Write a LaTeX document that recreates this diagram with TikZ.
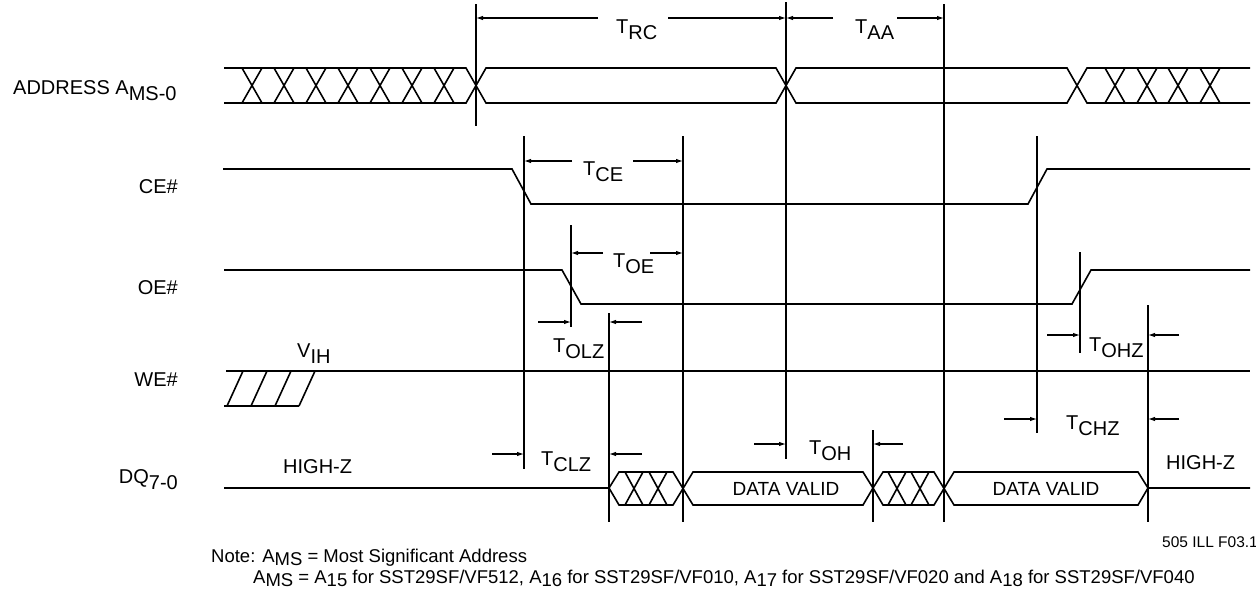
\documentclass[tikz,border=0pt]{standalone}
\usepackage{fontspec}
\setmainfont{Liberation Sans}
\usepackage{tikz}
\usetikzlibrary{arrows.meta}
\newcommand{\dn}[1]{\raisebox{-0.3em}{#1}}
\newcommand{\ndn}[1]{\raisebox{-0.2em}{#1}}

\begin{document}
\begin{tikzpicture}[x=1pt,y=-1pt,
    sig/.style={line width=1.6pt},
    tline/.style={line width=1.1pt},
    dim/.style={line width=1.1pt,-{Latex[length=7pt,width=4.5pt]}},
    lbl/.style={font=\fontsize{20}{22}\selectfont,inner sep=0pt}]

    \useasboundingbox (0,0) rectangle (1256,590);

    % signal names
    \begin{scope}[every node/.style={lbl}]
        \node[anchor=base west] (addr) at (13,94) {ADDRESS A\dn{MS-0}};
        \node[anchor=base east] (ce) at (178,193) {CE\#};
        \node[anchor=base east] (oe) at (178,294) {OE\#};
        \node[anchor=base east] (we) at (178,386) {WE\#};
        \node[anchor=base east] (dq) at (178,483) {DQ\dn{7-0}};
    \end{scope}

    % address bus
    \begin{scope}[every path/.style={sig}]
        \draw (224,68) -- (466,68) -- (486,103) -- (776,103) -- (796,68) -- (1067,68) -- (1087,103) -- (1250,103);
        \draw (224,103) -- (466,103) -- (486,68) -- (776,68) -- (796,103) -- (1067,103) -- (1087,68) -- (1250,68);
        \foreach \c in {252,284,316,348,380,412,444,1115,1147,1178,1210}
            \draw (\c-10,68) -- (\c+10,103) (\c-10,103) -- (\c+10,68);

        % CE#, OE#
        \draw (223,169) -- (512,169) -- (531,204) -- (1028,204) -- (1047,169) -- (1250,169);
        \draw (224,270) -- (562,270) -- (581,304) -- (1072,304) -- (1091,270) -- (1250,270);

        % WE#
        \draw (226,371) -- (1250,371);
        \draw (224,406) -- (299,406);
        \foreach \b in {227,251,275,299}
            \draw (\b,406) -- (\b+16,371);

        % DQ
        \draw (224,488) -- (609,488) -- (619,472) -- (673,472) -- (693,505) -- (863,505) -- (873,488) -- (883,472) -- (934,472) -- (954,505) -- (1138,505) -- (1148,488) -- (1250,488);
        \draw (609,488) -- (619,505) -- (673,505) -- (693,472) -- (863,472) -- (873,488) -- (883,505) -- (934,505) -- (954,472) -- (1138,472) -- (1148,488);
        \foreach \c in {634,658,897,920}
            \draw (\c-9,472) -- (\c+9,505) (\c-9,505) -- (\c+9,472);
    \end{scope}

    % timing marks
    \begin{scope}[every path/.style={tline}]
        \draw (476,4) -- (476,126);
        \draw (786,2) -- (786,459);
        \draw (944,4) -- (944,522);
        \draw (524,136) -- (524,469);
        \draw (683,136) -- (683,522);
        \draw (571,225) -- (571,327);
        \draw (609,313) -- (609,522);
        \draw (873,430) -- (873,522);
        \draw (1037,136) -- (1037,433);
        \draw (1080,252) -- (1080,353);
        \draw (1148,305) -- (1148,522);
    \end{scope}

    % timing arrows
    \begin{scope}[every path/.style={dim}]
        \draw (598,18) -- (476,18);  \draw (668,18) -- (786,18);
        \draw (833,18) -- (786,18);  \draw (897,18) -- (944,18);
        \draw (572,161) -- (524,161); \draw (633,161) -- (683,161);
        \draw (603,253) -- (571,253); \draw (650,253) -- (683,253);
        \draw (538,322) -- (571,322); \draw (642,322) -- (609,322);
        \draw (492,454) -- (524,454); \draw (642,454) -- (609,454);
        \draw (754,444) -- (786,444); \draw (903,444) -- (873,444);
        \draw (1047,335) -- (1080,335); \draw (1179,335) -- (1148,335);
        \draw (1004,419) -- (1037,419); \draw (1179,419) -- (1148,419);
    \end{scope}

    % timing names
    \begin{scope}[every node/.style={lbl,anchor=base west}]
        \node (trc) at (616,33) {T\dn{RC}};
        \node (taa) at (855,33) {T\dn{AA}};
        \node (tce) at (583,175) {T\dn{CE}};
        \node (toe) at (613,267) {T\dn{OE}};
        \node (tolz) at (553,352) {T\dn{OLZ}};
        \node (tclz) at (541,465) {T\dn{CLZ}};
        \node (toh) at (809,454) {T\dn{OH}};
        \node (tohz) at (1089,351) {T\dn{OHZ}};
        \node (tchz) at (1066,429) {T\dn{CHZ}};
        \node (vih) at (297,357) {V\dn{IH}};
        \node (hz1) at (283,473) {HIGH-Z};
        \node (hz2) at (1166,469) {HIGH-Z};
    \end{scope}
    \begin{scope}[every node/.style={lbl,font=\fontsize{19}{21}\selectfont}]
        \node (dv1) at (786,489) {DATA VALID};
        \node (dv2) at (1046,489) {DATA VALID};
    \end{scope}

    % note
    \begin{scope}[every node/.style={inner sep=0pt,anchor=base west,font=\fontsize{18.5}{20}\selectfont}]
        \node[font=\fontsize{15.5}{17}\selectfont] (fig) at (1162,547) {505 ILL F03.1};
        \node (note1) at (211,562) {Note: A\ndn{MS} = Most Significant Address};
        \node (note2) at (253,583) {A\ndn{MS} = A\ndn{15} for SST29SF/VF512, A\ndn{16} for SST29SF/VF010, A\ndn{17} for SST29SF/VF020 and A\ndn{18} for SST29SF/VF040};
    \end{scope}

\end{tikzpicture}
\end{document}
